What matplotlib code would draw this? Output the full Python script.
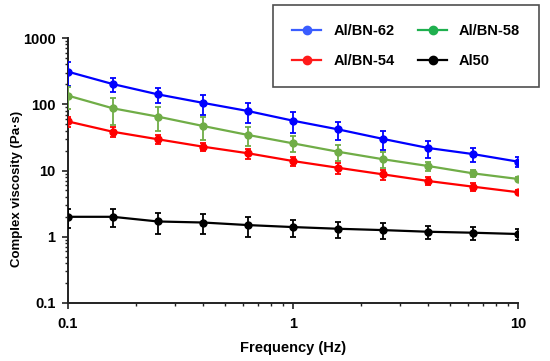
import matplotlib
matplotlib.use("Agg")
import matplotlib.pyplot as plt
from matplotlib.lines import Line2D
from matplotlib.ticker import LogLocator, NullFormatter, FixedLocator, FixedFormatter

plt.rcParams['font.family'] = ['Liberation Sans', 'DejaVu Sans']

freq = [0.1, 0.158, 0.251, 0.398, 0.631, 1.0, 1.585, 2.51, 3.98, 6.31, 10.0]

bn62 = [310, 202, 141, 105, 79, 56.5, 41.8, 30, 21.9, 17.7, 13.6]
bn62_err = [120, 50, 37, 35, 26, 20, 13, 9.5, 6.3, 4.2, 2.5]

bn58 = [135, 87, 65, 47, 34.4, 25.7, 19.2, 14.8, 11.7, 9.06, 7.45]
bn58_err = [50, 38, 26, 18, 11, 7, 5.2, 4, 1.8, 1.1, 0.6]

bn54 = [55, 38.5, 29.6, 22.9, 18.2, 13.9, 11.0, 8.75, 6.95, 5.7, 4.7]
bn54_err = [10, 6.3, 4.5, 3.4, 3.1, 2.3, 2.0, 1.5, 1.0, 0.8, 0.3]

al50 = [2.0, 2.0, 1.7, 1.64, 1.5, 1.4, 1.32, 1.26, 1.19, 1.15, 1.10]
al50_err = [0.65, 0.6, 0.6, 0.55, 0.5, 0.42, 0.35, 0.33, 0.27, 0.25, 0.2]

labels = ["Al/BN-62", "Al/BN-58", "Al/BN-54", "Al50"]
line_colors = ["#0000ff", "#70ad47", "#ff0000", "#000000"]
legend_colors = ["#3a5dff", "#1fb04f", "#ff1a1a", "#000000"]

fig = plt.figure(figsize=(5.5, 3.61), dpi=100)
ax = fig.add_axes([0.1236, 0.1607, 0.8182, 0.734])

series = [(bn62, bn62_err), (bn58, bn58_err), (bn54, bn54_err), (al50, al50_err)]
for (y, e), c in zip(series, line_colors):
    ax.errorbar(freq, y, yerr=e, color=c, lw=1.6, marker='o', ms=5,
                elinewidth=1.3, capsize=2.5, capthick=1.3, zorder=3)

ax.set_xscale('log')
ax.set_yscale('log')
ax.set_xlim(0.1, 10)
ax.set_ylim(0.1, 1000)

ax.yaxis.set_major_locator(FixedLocator([0.1, 1, 10, 100, 1000]))
ax.yaxis.set_major_formatter(FixedFormatter(["0.1", "1", "10", "100", "1000"]))
ax.yaxis.set_minor_locator(LogLocator(base=10, subs=range(2, 10), numticks=20))
ax.yaxis.set_minor_formatter(NullFormatter())
ax.xaxis.set_major_locator(FixedLocator([0.1, 1, 10]))
ax.xaxis.set_major_formatter(FixedFormatter(["0.1", "1", "10"]))
ax.xaxis.set_minor_locator(LogLocator(base=10, subs=range(2, 10), numticks=20))
ax.xaxis.set_minor_formatter(NullFormatter())

for s in ['top', 'right']:
    ax.spines[s].set_visible(False)
for s in ['left', 'bottom']:
    ax.spines[s].set_linewidth(1.4)
    ax.spines[s].set_color('#222222')

ax.tick_params(which='major', length=4, width=1.2, color='#222222', labelsize=10.5)
ax.tick_params(axis='y', which='major', pad=5)
ax.tick_params(axis='x', which='major', pad=6)
ax.tick_params(which='minor', length=2.5, width=1.0, color='#222222')
for lab in ax.get_xticklabels() + ax.get_yticklabels():
    lab.set_fontweight('bold')

ax.set_xlabel("Frequency (Hz)", fontsize=10.5, fontweight='bold')
ax.set_ylabel("Complex viscosity (Pa·s)", fontsize=9.5, fontweight='bold')
ax.xaxis.set_label_coords(0.5, -0.145)
ax.yaxis.set_label_coords(-0.099, 0.43)

handles = [Line2D([0], [0], color=c, lw=1.6, marker='o', ms=6) for c in legend_colors]
order = [0, 2, 1, 3]
leg = fig.legend([handles[i] for i in order], [labels[i] for i in order],
                 ncol=2, loc='upper left', bbox_to_anchor=(0.497, 0.759, 0.483, 0.227),
                 mode='expand', frameon=True, fancybox=False, edgecolor='#222222',
                 prop={'weight': 'bold', 'size': 10.5}, handlelength=2.0,
                 borderpad=1.3, labelspacing=1.1, columnspacing=0.8, handletextpad=0.8,
                 borderaxespad=0)
leg.get_frame().set_linewidth(1.2)

fig.savefig("out.png", dpi=100)
